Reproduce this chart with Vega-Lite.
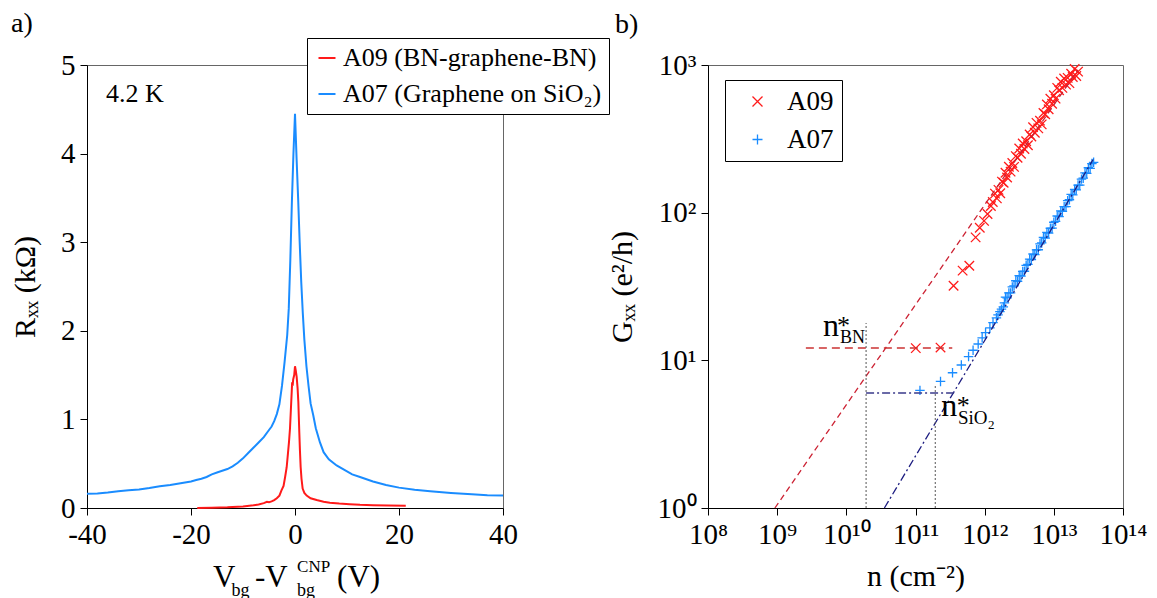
{
  "$schema": "https://vega.github.io/schema/vega-lite/v6.json",
  "padding": {"left": 10, "top": 9, "right": 5, "bottom": 5},
  "background": "white",
  "spacing": 205,
  "bounds": "flush",
  "resolve": {"scale": {"color": "independent", "shape": "independent", "x": "independent", "y": "independent"}, "legend": {"color": "independent", "shape": "independent"}},
  "config": {
    "font": "Liberation Serif",
    "view": {"stroke": "#666", "strokeWidth": 1},
    "axis": {"labelFont": "Liberation Serif", "titleFont": "Liberation Serif", "labelFontSize": 29, "titleFontSize": 30, "titleFontWeight": "normal", "labelColor": "black", "titleColor": "black", "domainColor": "black", "tickColor": "black", "tickSize": 7, "grid": false, "labelPadding": 5, "labelFlush": false, "labelOverlap": false},
    "text": {"font": "Liberation Serif", "color": "black"},
    "legend": {"labelFont": "Liberation Serif", "labelColor": "black"}
  },
  "datasets": {
    "curves": [
      {"series": "A07 (Graphene on SiO₂)", "V": -40, "R": 0.16},
      {"series": "A07 (Graphene on SiO₂)", "V": -38, "R": 0.165},
      {"series": "A07 (Graphene on SiO₂)", "V": -36, "R": 0.175},
      {"series": "A07 (Graphene on SiO₂)", "V": -34, "R": 0.19},
      {"series": "A07 (Graphene on SiO₂)", "V": -32, "R": 0.2},
      {"series": "A07 (Graphene on SiO₂)", "V": -30, "R": 0.21},
      {"series": "A07 (Graphene on SiO₂)", "V": -28, "R": 0.225},
      {"series": "A07 (Graphene on SiO₂)", "V": -26, "R": 0.245},
      {"series": "A07 (Graphene on SiO₂)", "V": -24, "R": 0.26},
      {"series": "A07 (Graphene on SiO₂)", "V": -22, "R": 0.28},
      {"series": "A07 (Graphene on SiO₂)", "V": -20, "R": 0.3},
      {"series": "A07 (Graphene on SiO₂)", "V": -19, "R": 0.315},
      {"series": "A07 (Graphene on SiO₂)", "V": -18, "R": 0.33},
      {"series": "A07 (Graphene on SiO₂)", "V": -17, "R": 0.35},
      {"series": "A07 (Graphene on SiO₂)", "V": -16, "R": 0.38},
      {"series": "A07 (Graphene on SiO₂)", "V": -15, "R": 0.4},
      {"series": "A07 (Graphene on SiO₂)", "V": -14, "R": 0.42},
      {"series": "A07 (Graphene on SiO₂)", "V": -13, "R": 0.44},
      {"series": "A07 (Graphene on SiO₂)", "V": -12, "R": 0.47},
      {"series": "A07 (Graphene on SiO₂)", "V": -11, "R": 0.51},
      {"series": "A07 (Graphene on SiO₂)", "V": -10, "R": 0.56},
      {"series": "A07 (Graphene on SiO₂)", "V": -9, "R": 0.62},
      {"series": "A07 (Graphene on SiO₂)", "V": -8, "R": 0.68},
      {"series": "A07 (Graphene on SiO₂)", "V": -7, "R": 0.74},
      {"series": "A07 (Graphene on SiO₂)", "V": -6, "R": 0.8},
      {"series": "A07 (Graphene on SiO₂)", "V": -5, "R": 0.88},
      {"series": "A07 (Graphene on SiO₂)", "V": -4.5, "R": 0.92},
      {"series": "A07 (Graphene on SiO₂)", "V": -4, "R": 0.98},
      {"series": "A07 (Graphene on SiO₂)", "V": -3.5, "R": 1.06},
      {"series": "A07 (Graphene on SiO₂)", "V": -3, "R": 1.17},
      {"series": "A07 (Graphene on SiO₂)", "V": -2.5, "R": 1.38},
      {"series": "A07 (Graphene on SiO₂)", "V": -2, "R": 1.65},
      {"series": "A07 (Graphene on SiO₂)", "V": -1.5, "R": 1.95},
      {"series": "A07 (Graphene on SiO₂)", "V": -1.2, "R": 2.25},
      {"series": "A07 (Graphene on SiO₂)", "V": -0.9, "R": 2.8},
      {"series": "A07 (Graphene on SiO₂)", "V": -0.6, "R": 3.45},
      {"series": "A07 (Graphene on SiO₂)", "V": -0.3, "R": 4.0},
      {"series": "A07 (Graphene on SiO₂)", "V": 0, "R": 4.45},
      {"series": "A07 (Graphene on SiO₂)", "V": 0.3, "R": 3.95},
      {"series": "A07 (Graphene on SiO₂)", "V": 0.6, "R": 3.5},
      {"series": "A07 (Graphene on SiO₂)", "V": 0.9, "R": 3.0},
      {"series": "A07 (Graphene on SiO₂)", "V": 1.2, "R": 2.55},
      {"series": "A07 (Graphene on SiO₂)", "V": 1.5, "R": 2.2},
      {"series": "A07 (Graphene on SiO₂)", "V": 1.8, "R": 1.9},
      {"series": "A07 (Graphene on SiO₂)", "V": 2.2, "R": 1.6},
      {"series": "A07 (Graphene on SiO₂)", "V": 2.6, "R": 1.38},
      {"series": "A07 (Graphene on SiO₂)", "V": 3, "R": 1.18},
      {"series": "A07 (Graphene on SiO₂)", "V": 3.5, "R": 1.05},
      {"series": "A07 (Graphene on SiO₂)", "V": 4, "R": 0.9},
      {"series": "A07 (Graphene on SiO₂)", "V": 4.8, "R": 0.74},
      {"series": "A07 (Graphene on SiO₂)", "V": 5.5, "R": 0.63},
      {"series": "A07 (Graphene on SiO₂)", "V": 6.5, "R": 0.55},
      {"series": "A07 (Graphene on SiO₂)", "V": 8, "R": 0.48},
      {"series": "A07 (Graphene on SiO₂)", "V": 9.5, "R": 0.43},
      {"series": "A07 (Graphene on SiO₂)", "V": 11, "R": 0.38},
      {"series": "A07 (Graphene on SiO₂)", "V": 12.5, "R": 0.35},
      {"series": "A07 (Graphene on SiO₂)", "V": 15, "R": 0.3},
      {"series": "A07 (Graphene on SiO₂)", "V": 17.5, "R": 0.26},
      {"series": "A07 (Graphene on SiO₂)", "V": 20, "R": 0.23},
      {"series": "A07 (Graphene on SiO₂)", "V": 23, "R": 0.205},
      {"series": "A07 (Graphene on SiO₂)", "V": 26, "R": 0.19},
      {"series": "A07 (Graphene on SiO₂)", "V": 30, "R": 0.17},
      {"series": "A07 (Graphene on SiO₂)", "V": 34, "R": 0.155},
      {"series": "A07 (Graphene on SiO₂)", "V": 37, "R": 0.145},
      {"series": "A07 (Graphene on SiO₂)", "V": 40, "R": 0.14},
      {"series": "A09 (BN-graphene-BN)", "V": -18.8, "R": 0.0},
      {"series": "A09 (BN-graphene-BN)", "V": -16, "R": 0.003},
      {"series": "A09 (BN-graphene-BN)", "V": -13, "R": 0.008},
      {"series": "A09 (BN-graphene-BN)", "V": -10, "R": 0.018},
      {"series": "A09 (BN-graphene-BN)", "V": -8, "R": 0.03},
      {"series": "A09 (BN-graphene-BN)", "V": -7, "R": 0.04},
      {"series": "A09 (BN-graphene-BN)", "V": -6, "R": 0.055},
      {"series": "A09 (BN-graphene-BN)", "V": -5.4, "R": 0.07},
      {"series": "A09 (BN-graphene-BN)", "V": -5, "R": 0.065},
      {"series": "A09 (BN-graphene-BN)", "V": -4.5, "R": 0.075},
      {"series": "A09 (BN-graphene-BN)", "V": -4, "R": 0.09},
      {"series": "A09 (BN-graphene-BN)", "V": -3.5, "R": 0.11},
      {"series": "A09 (BN-graphene-BN)", "V": -3, "R": 0.14},
      {"series": "A09 (BN-graphene-BN)", "V": -2.6, "R": 0.2},
      {"series": "A09 (BN-graphene-BN)", "V": -2.2, "R": 0.25},
      {"series": "A09 (BN-graphene-BN)", "V": -1.9, "R": 0.35},
      {"series": "A09 (BN-graphene-BN)", "V": -1.6, "R": 0.46},
      {"series": "A09 (BN-graphene-BN)", "V": -1.35, "R": 0.62},
      {"series": "A09 (BN-graphene-BN)", "V": -1.15, "R": 0.75},
      {"series": "A09 (BN-graphene-BN)", "V": -0.96, "R": 0.9},
      {"series": "A09 (BN-graphene-BN)", "V": -0.8, "R": 1.1},
      {"series": "A09 (BN-graphene-BN)", "V": -0.64, "R": 1.3},
      {"series": "A09 (BN-graphene-BN)", "V": -0.55, "R": 1.42},
      {"series": "A09 (BN-graphene-BN)", "V": -0.45, "R": 1.38},
      {"series": "A09 (BN-graphene-BN)", "V": -0.35, "R": 1.45},
      {"series": "A09 (BN-graphene-BN)", "V": -0.15, "R": 1.5},
      {"series": "A09 (BN-graphene-BN)", "V": 0, "R": 1.6},
      {"series": "A09 (BN-graphene-BN)", "V": 0.15, "R": 1.55},
      {"series": "A09 (BN-graphene-BN)", "V": 0.32, "R": 1.48},
      {"series": "A09 (BN-graphene-BN)", "V": 0.5, "R": 1.35},
      {"series": "A09 (BN-graphene-BN)", "V": 0.64, "R": 1.2},
      {"series": "A09 (BN-graphene-BN)", "V": 0.83, "R": 0.85},
      {"series": "A09 (BN-graphene-BN)", "V": 0.95, "R": 0.65},
      {"series": "A09 (BN-graphene-BN)", "V": 1.09, "R": 0.46},
      {"series": "A09 (BN-graphene-BN)", "V": 1.25, "R": 0.33},
      {"series": "A09 (BN-graphene-BN)", "V": 1.47, "R": 0.22},
      {"series": "A09 (BN-graphene-BN)", "V": 1.8, "R": 0.17},
      {"series": "A09 (BN-graphene-BN)", "V": 2.24, "R": 0.14},
      {"series": "A09 (BN-graphene-BN)", "V": 3, "R": 0.11},
      {"series": "A09 (BN-graphene-BN)", "V": 4.16, "R": 0.09},
      {"series": "A09 (BN-graphene-BN)", "V": 5.5, "R": 0.07},
      {"series": "A09 (BN-graphene-BN)", "V": 6.7, "R": 0.06},
      {"series": "A09 (BN-graphene-BN)", "V": 8.5, "R": 0.05},
      {"series": "A09 (BN-graphene-BN)", "V": 10.5, "R": 0.043},
      {"series": "A09 (BN-graphene-BN)", "V": 12.5, "R": 0.036},
      {"series": "A09 (BN-graphene-BN)", "V": 15, "R": 0.031},
      {"series": "A09 (BN-graphene-BN)", "V": 18, "R": 0.027},
      {"series": "A09 (BN-graphene-BN)", "V": 21.3, "R": 0.024}
    ],
    "pts": [
      {"series": "A09", "n": 1.01e11, "G": 12.1},
      {"series": "A09", "n": 2.3e11, "G": 12.2},
      {"series": "A09", "n": 3.55e11, "G": 32},
      {"series": "A09", "n": 4.8e11, "G": 40.5},
      {"series": "A09", "n": 6.0e11, "G": 43.7},
      {"series": "A09", "n": 7.4e11, "G": 68},
      {"series": "A09", "n": 8.5e11, "G": 79},
      {"series": "A09", "n": 9.8e11, "G": 88},
      {"series": "A09", "n": 1.1e12, "G": 98},
      {"series": "A09", "n": 1.23e12, "G": 111},
      {"series": "A09", "n": 1.31e12, "G": 118},
      {"series": "A09", "n": 1.41e12, "G": 134.6},
      {"series": "A09", "n": 1.5e12, "G": 125},
      {"series": "A09", "n": 1.585e12, "G": 142.6},
      {"series": "A09", "n": 1.68e12, "G": 135.5},
      {"series": "A09", "n": 1.78e12, "G": 162.2},
      {"series": "A09", "n": 1.88e12, "G": 159.6},
      {"series": "A09", "n": 2.0e12, "G": 186.2},
      {"series": "A09", "n": 2.11e12, "G": 173},
      {"series": "A09", "n": 2.24e12, "G": 204.6},
      {"series": "A09", "n": 2.37e12, "G": 189.7},
      {"series": "A09", "n": 2.51e12, "G": 216.8},
      {"series": "A09", "n": 2.66e12, "G": 204.2},
      {"series": "A09", "n": 2.82e12, "G": 241.5},
      {"series": "A09", "n": 2.99e12, "G": 235.5},
      {"series": "A09", "n": 3.16e12, "G": 272.3},
      {"series": "A09", "n": 3.35e12, "G": 250.6},
      {"series": "A09", "n": 3.55e12, "G": 293.8},
      {"series": "A09", "n": 3.76e12, "G": 269.8},
      {"series": "A09", "n": 3.98e12, "G": 304.8},
      {"series": "A09", "n": 4.22e12, "G": 285.8},
      {"series": "A09", "n": 4.47e12, "G": 338},
      {"series": "A09", "n": 4.73e12, "G": 328},
      {"series": "A09", "n": 5.01e12, "G": 379.3},
      {"series": "A09", "n": 5.31e12, "G": 347.5},
      {"series": "A09", "n": 5.62e12, "G": 405.5},
      {"series": "A09", "n": 5.96e12, "G": 372.4},
      {"series": "A09", "n": 6.31e12, "G": 419.8},
      {"series": "A09", "n": 6.68e12, "G": 396.3},
      {"series": "A09", "n": 7.08e12, "G": 473.2},
      {"series": "A09", "n": 7.5e12, "G": 463.4},
      {"series": "A09", "n": 7.94e12, "G": 540.8},
      {"series": "A09", "n": 8.41e12, "G": 501.2},
      {"series": "A09", "n": 8.91e12, "G": 591.6},
      {"series": "A09", "n": 9.44e12, "G": 547},
      {"series": "A09", "n": 1.0e13, "G": 623.7},
      {"series": "A09", "n": 1.06e13, "G": 591.6},
      {"series": "A09", "n": 1.12e13, "G": 699.8},
      {"series": "A09", "n": 1.19e13, "G": 674.5},
      {"series": "A09", "n": 1.26e13, "G": 770.9},
      {"series": "A09", "n": 1.33e13, "G": 699.8},
      {"series": "A09", "n": 1.41e13, "G": 810.5},
      {"series": "A09", "n": 1.5e13, "G": 736.2},
      {"series": "A09", "n": 1.585e13, "G": 818.5},
      {"series": "A09", "n": 1.68e13, "G": 753.4},
      {"series": "A09", "n": 1.78e13, "G": 873},
      {"series": "A09", "n": 1.88e13, "G": 829.8},
      {"series": "A09", "n": 2.0e13, "G": 939.7},
      {"series": "A09", "n": 2.11e13, "G": 843.3},
      {"series": "A09", "n": 2.24e13, "G": 901.6},
      {"series": "A07", "n": 1.16e11, "G": 6.26},
      {"series": "A07", "n": 2.3e11, "G": 7.2},
      {"series": "A07", "n": 3.43e11, "G": 8.24},
      {"series": "A07", "n": 4.6e11, "G": 9.3},
      {"series": "A07", "n": 5.85e11, "G": 10.6},
      {"series": "A07", "n": 6.8e11, "G": 11.7},
      {"series": "A07", "n": 8.06e11, "G": 12.9},
      {"series": "A07", "n": 9.2e11, "G": 14.2},
      {"series": "A07", "n": 1.03e12, "G": 15.4},
      {"series": "A07", "n": 1.19e12, "G": 16.6},
      {"series": "A07", "n": 1.32e12, "G": 18},
      {"series": "A07", "n": 1.48e12, "G": 19.4},
      {"series": "A07", "n": 1.56e12, "G": 20.3},
      {"series": "A07", "n": 1.66e12, "G": 21.4},
      {"series": "A07", "n": 1.75e12, "G": 22.2},
      {"series": "A07", "n": 1.86e12, "G": 23},
      {"series": "A07", "n": 1.93e12, "G": 24.5},
      {"series": "A07", "n": 2.0e12, "G": 26.8},
      {"series": "A07", "n": 2.11e12, "G": 26.5},
      {"series": "A07", "n": 2.24e12, "G": 28.6},
      {"series": "A07", "n": 2.37e12, "G": 28.6},
      {"series": "A07", "n": 2.51e12, "G": 31.4},
      {"series": "A07", "n": 2.66e12, "G": 31.9},
      {"series": "A07", "n": 2.82e12, "G": 34.6},
      {"series": "A07", "n": 2.99e12, "G": 34.3},
      {"series": "A07", "n": 3.16e12, "G": 37.5},
      {"series": "A07", "n": 3.35e12, "G": 37.2},
      {"series": "A07", "n": 3.55e12, "G": 40.0},
      {"series": "A07", "n": 3.76e12, "G": 40.1},
      {"series": "A07", "n": 3.98e12, "G": 44.0},
      {"series": "A07", "n": 4.22e12, "G": 44.6},
      {"series": "A07", "n": 4.47e12, "G": 48.5},
      {"series": "A07", "n": 4.73e12, "G": 48.1},
      {"series": "A07", "n": 5.01e12, "G": 52.5},
      {"series": "A07", "n": 5.31e12, "G": 52.0},
      {"series": "A07", "n": 5.62e12, "G": 56.0},
      {"series": "A07", "n": 5.96e12, "G": 56.1},
      {"series": "A07", "n": 6.31e12, "G": 61.5},
      {"series": "A07", "n": 6.68e12, "G": 62.4},
      {"series": "A07", "n": 7.08e12, "G": 67.9},
      {"series": "A07", "n": 7.5e12, "G": 67.3},
      {"series": "A07", "n": 7.94e12, "G": 73.5},
      {"series": "A07", "n": 8.41e12, "G": 72.8},
      {"series": "A07", "n": 8.91e12, "G": 78.4},
      {"series": "A07", "n": 9.44e12, "G": 78.5},
      {"series": "A07", "n": 1.0e13, "G": 86.1},
      {"series": "A07", "n": 1.06e13, "G": 87.4},
      {"series": "A07", "n": 1.12e13, "G": 94.9},
      {"series": "A07", "n": 1.19e13, "G": 94.1},
      {"series": "A07", "n": 1.26e13, "G": 102.8},
      {"series": "A07", "n": 1.33e13, "G": 102.0},
      {"series": "A07", "n": 1.41e13, "G": 109.8},
      {"series": "A07", "n": 1.5e13, "G": 109.9},
      {"series": "A07", "n": 1.585e13, "G": 120.5},
      {"series": "A07", "n": 1.68e13, "G": 122.3},
      {"series": "A07", "n": 1.78e13, "G": 132.9},
      {"series": "A07", "n": 1.88e13, "G": 131.8},
      {"series": "A07", "n": 2.0e13, "G": 143.9},
      {"series": "A07", "n": 2.11e13, "G": 142.7},
      {"series": "A07", "n": 2.24e13, "G": 153.7},
      {"series": "A07", "n": 2.37e13, "G": 153.8},
      {"series": "A07", "n": 2.51e13, "G": 168.7},
      {"series": "A07", "n": 2.66e13, "G": 171.1},
      {"series": "A07", "n": 2.82e13, "G": 186.0},
      {"series": "A07", "n": 2.99e13, "G": 184.4},
      {"series": "A07", "n": 3.16e13, "G": 201.4},
      {"series": "A07", "n": 3.35e13, "G": 199.7},
      {"series": "A07", "n": 3.55e13, "G": 215.0},
      {"series": "A07", "n": 3.76e13, "G": 219.2}
    ],
    "guides": [
      {"seg": "fitBN", "n": 9.27e8, "G": 1},
      {"seg": "fitBN", "n": 2.24e13, "G": 927},
      {"seg": "fitSiO2", "n": 3.55e10, "G": 1},
      {"seg": "fitSiO2", "n": 3.7e13, "G": 229},
      {"seg": "hBN", "n": 2.6e9, "G": 12.1},
      {"seg": "hBN", "n": 3.4e11, "G": 12.1},
      {"seg": "hSiO2", "n": 1.93e10, "G": 6.0},
      {"seg": "hSiO2", "n": 3.7e11, "G": 6.0},
      {"seg": "vBN", "n": 1.93e10, "G": 1},
      {"seg": "vBN", "n": 1.93e10, "G": 17.9},
      {"seg": "vSiO2", "n": 1.93e11, "G": 1},
      {"seg": "vSiO2", "n": 1.93e11, "G": 6.7}
    ],
    "one": [{"k": 1}]
  },
  "hconcat": [
    {
      "width": 416,
      "height": 443,
      "layer": [
        {
          "data": {"name": "curves"},
          "mark": {"type": "line", "strokeWidth": 2},
          "encoding": {
            "x": {"field": "V", "type": "quantitative", "scale": {"domain": [-40, 40], "nice": false},
              "axis": {"values": [-40, -20, 0, 20, 40], "title": null, "labelExpr": "datum.value < 0 ? '-' + abs(datum.value) : '' + datum.value"}},
            "y": {"field": "R", "type": "quantitative", "scale": {"domain": [0, 5], "nice": false}, "axis": {"values": [0, 1, 2, 3, 4, 5], "format": "d", "title": "Rₓₓ (kΩ)", "titlePadding": 20}},
            "color": {"field": "series", "type": "nominal",
              "scale": {"domain": ["A09 (BN-graphene-BN)", "A07 (Graphene on SiO₂)"], "range": ["#ff1a1a", "#1a8cff"]},
              "legend": {"orient": "none", "legendX": 220, "legendY": -27, "title": null, "symbolType": "stroke", "symbolSize": 289, "symbolStrokeWidth": 2, "labelFontSize": 26, "labelOffset": 3, "padding": 7, "rowPadding": 10, "strokeColor": "black", "fillColor": "white", "labelLimit": 500}}
          }
        },
        {"data": {"name": "one"}, "mark": {"type": "text", "text": "4.2 K", "fontSize": 26, "align": "left", "baseline": "alphabetic"}, "encoding": {"x": {"datum": -36.35, "type": "quantitative"}, "y": {"datum": 4.58, "type": "quantitative"}}},
        {"data": {"name": "one"}, "mark": {"type": "text", "text": "a)", "fontSize": 28, "align": "left", "baseline": "alphabetic"}, "encoding": {"x": {"datum": -54.6, "type": "quantitative"}, "y": {"datum": 5.37, "type": "quantitative"}}},
        {"data": {"name": "one"}, "mark": {"type": "text", "text": "V", "fontSize": 31, "align": "left", "baseline": "alphabetic"}, "encoding": {"x": {"datum": -15.77, "type": "quantitative"}, "y": {"datum": -0.892, "type": "quantitative"}}},
        {"data": {"name": "one"}, "mark": {"type": "text", "text": "bg", "fontSize": 18, "align": "left", "baseline": "alphabetic"}, "encoding": {"x": {"datum": -12.2, "type": "quantitative"}, "y": {"datum": -0.99, "type": "quantitative"}}},
        {"data": {"name": "one"}, "mark": {"type": "text", "text": "-V", "fontSize": 31, "align": "left", "baseline": "alphabetic"}, "encoding": {"x": {"datum": -7.7, "type": "quantitative"}, "y": {"datum": -0.892, "type": "quantitative"}}},
        {"data": {"name": "one"}, "mark": {"type": "text", "text": "bg", "fontSize": 18, "align": "left", "baseline": "alphabetic"}, "encoding": {"x": {"datum": 0.4, "type": "quantitative"}, "y": {"datum": -0.99, "type": "quantitative"}}},
        {"data": {"name": "one"}, "mark": {"type": "text", "text": "CNP", "fontSize": 17, "align": "left", "baseline": "alphabetic"}, "encoding": {"x": {"datum": 0.4, "type": "quantitative"}, "y": {"datum": -0.722, "type": "quantitative"}}},
        {"data": {"name": "one"}, "mark": {"type": "text", "text": "(V)", "fontSize": 31, "align": "left", "baseline": "alphabetic"}, "encoding": {"x": {"datum": 8.1, "type": "quantitative"}, "y": {"datum": -0.892, "type": "quantitative"}}}
      ]
    },
    {
      "width": 415,
      "height": 443,
      "layer": [
        {
          "data": {"name": "pts"},
          "mark": {"type": "point", "filled": false, "strokeWidth": 1.3, "size": 90, "opacity": 1},
          "encoding": {
            "x": {"field": "n", "type": "quantitative", "scale": {"type": "log", "domain": [1e8, 1e14], "nice": false},
              "axis": {"values": [1e8, 1e9, 1e10, 1e11, 1e12, 1e13, 1e14], "title": "n (cm⁻²)", "titlePadding": 12,
                "labelExpr": "'10' + ['⁰','¹','²','³','⁴','⁵','⁶','⁷','⁸','⁹','¹⁰','¹¹','¹²','¹³','¹⁴'][round(log(datum.value)/LN10)]"}},
            "y": {"field": "G", "type": "quantitative", "scale": {"type": "log", "domain": [1, 1000], "nice": false},
              "axis": {"values": [1, 10, 100, 1000], "title": "Gₓₓ (e²/h)", "titlePadding": 20,
                "labelExpr": "'10' + ['⁰','¹','²','³','⁴','⁵','⁶','⁷','⁸','⁹'][round(log(datum.value)/LN10)]"}},
            "color": {"field": "series", "type": "nominal", "scale": {"domain": ["A09", "A07"], "range": ["#ff1a1a", "#1a8cff"]},
              "legend": {"orient": "none", "legendX": 17, "legendY": 15, "title": null, "symbolSize": 100, "symbolStrokeWidth": 1.3, "labelFontSize": 27, "labelOffset": 16, "symbolOffset": 11, "padding": 8, "rowPadding": 10, "strokeColor": "black", "fillColor": "white"}},
            "shape": {"field": "series", "type": "nominal", "scale": {"domain": ["A09", "A07"], "range": ["M-1,-1L1,1M-1,1L1,-1", "M-1,0L1,0M0,-1L0,1"]}}
          }
        },
        {"data": {"name": "guides"}, "transform": [{"filter": "datum.seg === 'fitBN'"}], "mark": {"type": "line", "color": "#cc2233", "strokeWidth": 1.3, "strokeDash": [6, 4]}, "encoding": {"x": {"field": "n", "type": "quantitative"}, "y": {"field": "G", "type": "quantitative"}}},
        {"data": {"name": "guides"}, "transform": [{"filter": "datum.seg === 'fitSiO2'"}], "mark": {"type": "line", "color": "#1c1c80", "strokeWidth": 1.3, "strokeDash": [8, 3, 2, 3]}, "encoding": {"x": {"field": "n", "type": "quantitative"}, "y": {"field": "G", "type": "quantitative"}}},
        {"data": {"name": "guides"}, "transform": [{"filter": "datum.seg === 'hBN'"}], "mark": {"type": "line", "color": "#cc3333", "strokeWidth": 1.5, "strokeDash": [8, 5]}, "encoding": {"x": {"field": "n", "type": "quantitative"}, "y": {"field": "G", "type": "quantitative"}}},
        {"data": {"name": "guides"}, "transform": [{"filter": "datum.seg === 'hSiO2'"}], "mark": {"type": "line", "color": "#3a3a8a", "strokeWidth": 1.5, "strokeDash": [8, 3, 2, 3]}, "encoding": {"x": {"field": "n", "type": "quantitative"}, "y": {"field": "G", "type": "quantitative"}}},
        {"data": {"name": "guides"}, "transform": [{"filter": "datum.seg === 'vBN' || datum.seg === 'vSiO2'"}], "mark": {"type": "line", "color": "#555", "strokeWidth": 1, "strokeDash": [2, 2]}, "encoding": {"x": {"field": "n", "type": "quantitative"}, "y": {"field": "G", "type": "quantitative"}, "detail": {"field": "seg"}, "order": {"field": "G"}}},
        {"data": {"name": "one"}, "mark": {"type": "text", "text": "b)", "fontSize": 28, "align": "left", "baseline": "alphabetic"}, "encoding": {"x": {"datum": 4.53e6, "type": "quantitative"}, "y": {"datum": 1644, "type": "quantitative"}}},
        {"data": {"name": "one"}, "mark": {"type": "text", "text": "n", "fontSize": 32, "align": "left", "baseline": "alphabetic"}, "encoding": {"x": {"datum": 4.6e9, "type": "quantitative"}, "y": {"datum": 14.6, "type": "quantitative"}}},
        {"data": {"name": "one"}, "mark": {"type": "text", "text": "*", "fontSize": 26, "align": "center", "baseline": "alphabetic"}, "encoding": {"x": {"datum": 9.08e9, "type": "quantitative"}, "y": {"datum": 15.0, "type": "quantitative"}}},
        {"data": {"name": "one"}, "mark": {"type": "text", "text": "BN", "fontSize": 18, "align": "left", "baseline": "alphabetic"}, "encoding": {"x": {"datum": 8.09e9, "type": "quantitative"}, "y": {"datum": 13.2, "type": "quantitative"}}},
        {"data": {"name": "one"}, "mark": {"type": "text", "text": "n", "fontSize": 32, "align": "left", "baseline": "alphabetic"}, "encoding": {"x": {"datum": 2.35e11, "type": "quantitative"}, "y": {"datum": 4.2, "type": "quantitative"}}},
        {"data": {"name": "one"}, "mark": {"type": "text", "text": "*", "fontSize": 26, "align": "center", "baseline": "alphabetic"}, "encoding": {"x": {"datum": 4.92e11, "type": "quantitative"}, "y": {"datum": 4.35, "type": "quantitative"}}},
        {"data": {"name": "one"}, "mark": {"type": "text", "text": "SiO", "fontSize": 19, "align": "left", "baseline": "alphabetic"}, "encoding": {"x": {"datum": 4.1e11, "type": "quantitative"}, "y": {"datum": 3.72, "type": "quantitative"}}},
        {"data": {"name": "one"}, "mark": {"type": "text", "text": "2", "fontSize": 13, "align": "left", "baseline": "alphabetic"}, "encoding": {"x": {"datum": 1.12e12, "type": "quantitative"}, "y": {"datum": 3.42, "type": "quantitative"}}}
      ]
    }
  ]
}
